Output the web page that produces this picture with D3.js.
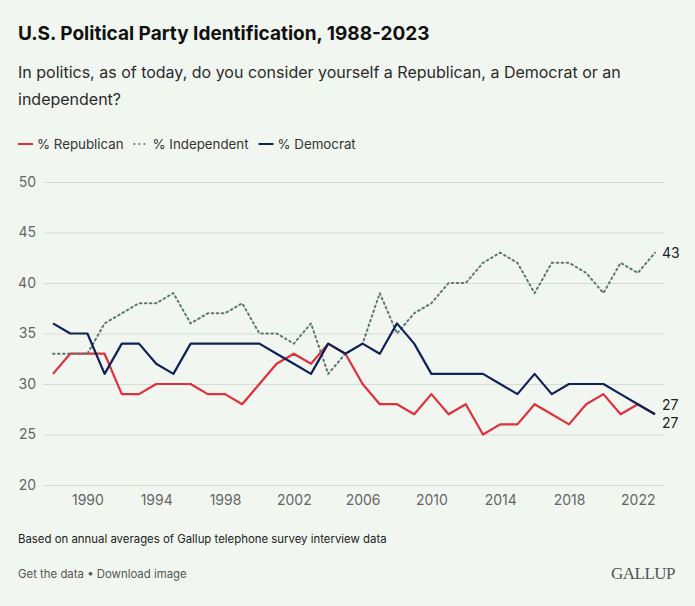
<!DOCTYPE html>
<html>
<head>
<meta charset="utf-8">
<script src="https://cdn.jsdelivr.net/npm/d3@7"></script>
<style>
  body { margin: 0; background: #f1f6f0; }
  svg { display: block; font-family: Inter, "Noto Sans", sans-serif; }
</style>
</head>
<body>
<svg id="chart" width="695" height="606"></svg>
<script>
const years = d3.range(1988, 2024);
const republican = [31, 33, 33, 33, 29, 29, 30, 30, 30, 29, 29, 28, 30, 32, 33, 32, 34, 33, 30, 28,
  28, 27, 29, 27, 28, 25, 26, 26, 28, 27, 26, 28, 29, 27, 28, 27];
const independent = [33, 33, 33, 36, 37, 38, 38, 39, 36, 37, 37, 38, 35, 35, 34, 36, 31, 33, 34, 39,
  35, 37, 38, 40, 40, 42, 43, 42, 39, 42, 42, 41, 39, 42, 41, 43];
const democrat = [36, 35, 35, 31, 34, 34, 32, 31, 34, 34, 34, 34, 34, 33, 32, 31, 34, 33, 34, 33,
  36, 34, 31, 31, 31, 31, 30, 29, 31, 29, 30, 30, 30, 29, 28, 27];
const yTicks = [20, 25, 30, 35, 40, 45, 50];
const xTicks = [1990, 1994, 1998, 2002, 2006, 2010, 2014, 2018, 2022];

const series = [
  { name: "% Republican", values: republican, color: "#e0303b", dash: null },
  { name: "% Independent", values: independent, color: "#5d7873", dash: "1.6,3.4" },
  { name: "% Democrat", values: democrat, color: "#0e2258", dash: null }
];

const svg = d3.select("#chart");
const x = d3.scaleLinear().domain([1988, 2023]).range([53, 655]);
const y = d3.scaleLinear().domain([20, 50]).range([485, 182]);

// header
svg.append("text").attr("x", 18).attr("y", 40)
  .attr("font-size", 19).attr("font-weight", 700).attr("fill", "#111")
  .text("U.S. Political Party Identification, 1988-2023");
const sub = svg.append("text").attr("font-size", 16).attr("fill", "#2b2b2b");
sub.append("tspan").attr("x", 18).attr("y", 78)
  .text("In politics, as of today, do you consider yourself a Republican, a Democrat or an");
sub.append("tspan").attr("x", 18).attr("y", 105).text("independent?");

// legend
let lx = 18;
series.forEach(s => {
  svg.append("line").attr("x1", lx).attr("x2", lx + 15).attr("y1", 144).attr("y2", 144)
    .attr("stroke", s.color).attr("stroke-width", 2)
    .attr("stroke-dasharray", s.dash);
  const t = svg.append("text").attr("x", lx + 19).attr("y", 148.5)
    .attr("font-size", 13.3).attr("fill", "#333").text(s.name);
  lx += 19 + t.node().getComputedTextLength() + 10;
});

// grid + y axis
const yAxis = d3.axisLeft(y).tickValues(yTicks).tickSize(-(665 - 44)).tickPadding(8);
svg.append("g").attr("transform", "translate(44,0)").call(yAxis)
  .call(g => g.select(".domain").remove())
  .call(g => g.selectAll(".tick line").attr("stroke", "#d8dcd7"))
  .call(g => g.selectAll(".tick text").attr("font-size", 14).attr("fill", "#666")
    .attr("font-family", "Inter, sans-serif"));

// x axis
const xAxis = d3.axisBottom(x).tickValues(xTicks).tickFormat(d3.format("d")).tickSize(0).tickPadding(10);
svg.append("g").attr("transform", "translate(0,485)").call(xAxis)
  .call(g => g.select(".domain").remove())
  .call(g => g.selectAll(".tick text").attr("font-size", 14).attr("fill", "#666")
    .attr("font-family", "Inter, sans-serif"));

// lines
const line = d3.line().x((d, i) => x(years[i])).y(d => y(d));
series.forEach(s => {
  svg.append("path").datum(s.values).attr("d", line)
    .attr("fill", "none").attr("stroke", s.color)
    .attr("stroke-width", s.dash ? 2 : 2.2)
    .attr("stroke-linejoin", "round")
    .attr("stroke-linecap", s.dash ? "round" : "butt")
    .attr("stroke-dasharray", s.dash);
});

// end labels
const last = years.length - 1;
const endLabels = [
  { v: independent[last], dy: 0 },
  { v: democrat[last], dy: -9 },
  { v: republican[last], dy: 9 }
];
endLabels.forEach(l => {
  svg.append("text").attr("x", 662).attr("y", y(l.v) + l.dy + 5)
    .attr("font-size", 14).attr("fill", "#222").text(l.v);
});

// footer
svg.append("text").attr("x", 18).attr("y", 543).attr("font-size", 11.4).attr("fill", "#222")
  .text("Based on annual averages of Gallup telephone survey interview data");
svg.append("text").attr("x", 18).attr("y", 578).attr("font-size", 11.4).attr("fill", "#555")
  .text("Get the data \u2022 Download image");
svg.append("text").attr("x", 675).attr("y", 579).attr("text-anchor", "end")
  .attr("font-family", "'Liberation Serif', 'DejaVu Serif', serif").attr("font-size", 17)
  .attr("fill", "#555").attr("letter-spacing", -0.5).text("GALLUP");
</script>
</body>
</html>
